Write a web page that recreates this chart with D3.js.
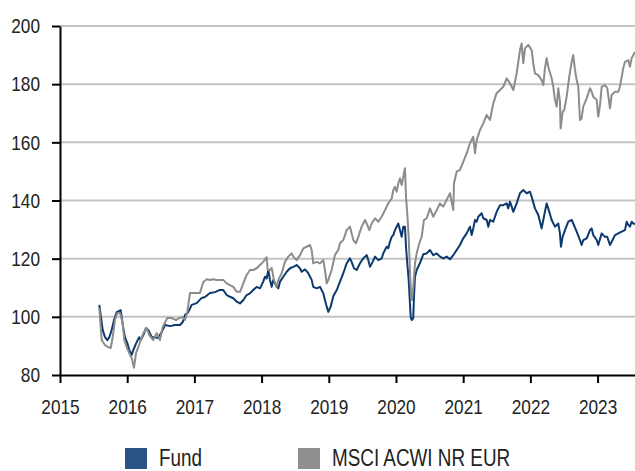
<!DOCTYPE html>
<html>
<head>
<meta charset="utf-8">
<script src="https://cdn.jsdelivr.net/npm/d3@7"></script>
<style>
  body { margin: 0; background: #fff; }
  svg text { font-family: "Liberation Sans Narrow", "Arial Narrow", "Liberation Sans", Arial, sans-serif; fill: #222; }
</style>
</head>
<body>
<script>
let w = 635;
let h = 471;

// decimal years + index values
let fundT = [2015.585,2015.61,2015.635,2015.67,2015.704,2015.734,2015.769,2015.804,2015.844,2015.903,2015.918,2015.942,2015.967,2016.001,2016.031,2016.067,2016.091,2016.141,2016.18,2016.201,2016.24,2016.28,2016.314,2016.365,2016.414,2016.463,2016.513,2016.563,2016.637,2016.711,2016.786,2016.826,2016.86,2016.909,2016.96,2017.034,2017.109,2017.158,2017.232,2017.307,2017.371,2017.43,2017.481,2017.53,2017.579,2017.63,2017.679,2017.728,2017.778,2017.827,2017.876,2017.927,2017.976,2018.025,2018.051,2018.076,2018.1,2018.125,2018.15,2018.174,2018.225,2018.249,2018.274,2018.323,2018.374,2018.423,2018.472,2018.522,2018.571,2018.596,2018.646,2018.695,2018.745,2018.769,2018.82,2018.869,2018.918,2018.943,2018.969,2018.993,2019.028,2019.067,2019.118,2019.167,2019.216,2019.266,2019.315,2019.34,2019.375,2019.415,2019.464,2019.513,2019.564,2019.588,2019.613,2019.653,2019.688,2019.737,2019.787,2019.811,2019.836,2019.862,2019.885,2019.911,2019.936,2019.96,2019.985,2020.01,2020.034,2020.06,2020.085,2020.109,2020.134,2020.149,2020.168,2020.189,2020.208,2020.219,2020.234,2020.257,2020.268,2020.283,2020.308,2020.357,2020.406,2020.457,2020.506,2020.555,2020.606,2020.655,2020.704,2020.754,2020.804,2020.853,2020.903,2020.952,2021.001,2021.052,2021.101,2021.126,2021.15,2021.176,2021.201,2021.225,2021.25,2021.275,2021.299,2021.35,2021.374,2021.399,2021.448,2021.498,2021.548,2021.597,2021.647,2021.671,2021.696,2021.722,2021.746,2021.796,2021.845,2021.894,2021.945,2021.994,2022.019,2022.068,2022.118,2022.168,2022.192,2022.242,2022.266,2022.317,2022.366,2022.415,2022.44,2022.455,2022.48,2022.515,2022.564,2022.615,2022.638,2022.689,2022.738,2022.763,2022.787,2022.838,2022.887,2022.912,2022.936,2022.987,2023.01,2023.061,2023.11,2023.144,2023.185,2023.21,2023.259,2023.308,2023.359,2023.408,2023.433,2023.457,2023.482,2023.507,2023.531,2023.557];
let fundV = [104.1,99.9,95.5,93.0,92.0,93.0,95.5,98.9,101.6,102.3,99.9,96.1,93.0,91.0,88.6,86.9,88.6,91.3,93.0,92.0,93.7,96.1,95.5,93.0,93.0,92.7,94.8,97.2,96.8,97.2,97.2,98.2,100.6,101.6,104.1,104.7,106.5,106.8,108.2,108.5,109.2,109.2,107.5,106.9,106.4,105.2,104.6,105.8,107.5,108.1,109.2,110.3,109.8,112.1,113.8,113.2,116.1,112.7,110.3,112.7,110.3,109.8,112.1,113.8,115.5,116.7,117.2,117.8,116.7,115.5,116.3,115.0,112.7,110.3,109.8,110.3,108.1,105.8,103.5,101.7,103.5,107.1,109.2,112.1,115.0,118.4,120.1,118.9,116.7,116.1,118.4,120.1,121.2,119.5,117.2,118.9,120.7,119.5,120.1,121.8,123.0,124.1,123.6,125.8,127.5,128.1,129.8,131.0,132.1,129.8,127.5,131.0,131.0,124.1,118.4,112.7,104.6,100.0,98.9,99.5,106.9,113.8,116.1,118.5,121.5,121.8,123.0,121.2,121.8,120.7,120.1,120.7,119.8,121.2,123.0,124.7,127.0,128.7,131.0,128.1,130.4,133.3,132.7,134.4,135.0,135.6,133.9,133.3,131.0,133.3,132.7,136.1,138.4,138.4,139.0,137.3,139.6,137.9,136.1,139.0,142.5,143.6,142.5,143.0,141.3,137.3,135.0,130.4,133.3,139.0,137.3,133.3,131.0,132.1,128.7,124.1,127.5,129.8,132.7,133.3,132.1,129.3,126.4,124.7,126.4,127.0,129.8,130.4,128.1,126.4,124.7,128.7,127.5,127.5,124.7,125.8,128.1,128.7,129.3,129.8,132.7,131.6,131.0,132.7,132.1,131.9];

let msciT = [2015.585,2015.621,2015.67,2015.719,2015.754,2015.784,2015.818,2015.853,2015.893,2015.933,2015.957,2015.993,2016.031,2016.067,2016.101,2016.131,2016.165,2016.201,2016.24,2016.29,2016.329,2016.388,2016.439,2016.488,2016.528,2016.597,2016.662,2016.726,2016.775,2016.826,2016.86,2016.894,2016.935,2017.009,2017.083,2017.132,2017.183,2017.232,2017.281,2017.332,2017.381,2017.43,2017.481,2017.53,2017.579,2017.63,2017.679,2017.728,2017.778,2017.827,2017.876,2017.927,2017.976,2018.025,2018.076,2018.09,2018.125,2018.15,2018.184,2018.225,2018.249,2018.299,2018.348,2018.397,2018.448,2018.472,2018.522,2018.571,2018.621,2018.671,2018.72,2018.745,2018.769,2018.82,2018.869,2018.918,2018.943,2018.969,2018.993,2019.043,2019.092,2019.141,2019.167,2019.216,2019.266,2019.315,2019.34,2019.365,2019.405,2019.439,2019.489,2019.539,2019.564,2019.603,2019.638,2019.688,2019.737,2019.787,2019.836,2019.885,2019.936,2019.96,2019.985,2020.01,2020.034,2020.06,2020.085,2020.109,2020.134,2020.149,2020.168,2020.189,2020.208,2020.223,2020.238,2020.257,2020.283,2020.308,2020.347,2020.382,2020.417,2020.457,2020.506,2020.555,2020.606,2020.655,2020.704,2020.754,2020.804,2020.853,2020.863,2020.903,2020.952,2021.001,2021.052,2021.101,2021.15,2021.176,2021.201,2021.25,2021.299,2021.35,2021.399,2021.448,2021.498,2021.548,2021.597,2021.647,2021.696,2021.746,2021.796,2021.845,2021.87,2021.894,2021.92,2021.969,2022.019,2022.043,2022.068,2022.118,2022.168,2022.192,2022.217,2022.242,2022.266,2022.317,2022.341,2022.366,2022.391,2022.415,2022.44,2022.45,2022.48,2022.504,2022.54,2022.579,2022.615,2022.638,2022.664,2022.689,2022.713,2022.738,2022.763,2022.787,2022.838,2022.887,2022.912,2022.936,2022.987,2023.01,2023.036,2023.061,2023.11,2023.144,2023.185,2023.21,2023.259,2023.308,2023.333,2023.382,2023.408,2023.457,2023.482,2023.507,2023.531,2023.557];
let msciV = [103.0,92.0,90.3,89.6,89.3,93.0,98.9,101.3,101.3,97.9,92.0,89.6,87.5,85.8,82.5,87.5,89.6,92.0,94.4,96.1,93.7,92.0,94.4,92.0,96.5,99.6,99.6,98.9,99.6,99.9,98.9,101.6,108.2,108.2,108.2,112.0,112.9,112.7,112.9,112.7,112.7,112.7,111.5,110.9,110.3,108.6,108.6,111.5,114.4,116.1,116.1,116.7,117.8,118.9,120.5,116.1,116.1,116.8,112.7,110.3,112.7,115.0,118.9,120.7,121.8,120.7,119.5,121.2,123.5,124.1,124.7,123.0,118.4,118.9,118.4,119.5,116.1,111.5,112.7,116.1,121.3,123.0,125.3,126.4,129.8,131.0,128.7,126.4,125.3,127.5,131.0,133.3,132.1,129.8,132.1,133.9,132.7,134.4,136.7,139.0,140.7,143.6,144.7,143.0,145.9,147.6,145.3,148.2,151.1,141.3,135.6,127.5,116.1,108.1,105.8,110.3,118.4,121.8,125.3,127.5,133.3,133.9,137.3,134.4,136.7,139.0,137.9,140.2,142.5,136.7,145.9,149.9,150.5,153.3,156.2,159.7,161.9,156.2,160.8,164.2,166.5,169.4,167.7,173.4,176.9,178.0,179.1,182.0,180.3,178.0,183.7,191.7,194.0,187.2,192.3,193.5,191.7,187.2,183.7,183.1,181.4,179.7,185.5,188.9,186.0,182.0,179.1,174.6,172.3,178.6,174.0,164.8,170.5,171.1,175.7,182.6,187.7,190.0,184.9,181.4,179.1,167.7,168.3,172.3,175.1,178.6,177.4,175.7,174.6,168.8,172.8,179.1,179.7,178.6,171.7,176.3,177.4,177.4,179.1,185.5,187.7,188.3,186.0,188.9,190.0,191.1];

let yearTicks = [2015, 2016, 2017, 2018, 2019, 2020, 2021, 2022, 2023];
let valueTicks = [80, 100, 120, 140, 160, 180, 200];
let seriesNames = ["Fund", "MSCI ACWI NR EUR"];
let lineColors = ["#0c3a6e", "#8c8c8c"];
let legendColors = ["#2a5284", "#8f8f8f"];

let fund = fundT.map((t, i) => [t, fundV[i]]);
let msci = msciT.map((t, i) => [t, msciV[i]]);

let xScale = d3.scaleLinear()
  .domain([2015, 2023.557])
  .range([60, 635]);

let yScale = d3.scaleLinear()
  .domain([80, 200])
  .range([375, 26]);

let svg = d3.select("body")
  .append("svg")
  .attr("width", w)
  .attr("height", h);

// grid
svg.append("g")
  .selectAll("line")
  .data(valueTicks.filter(d => d > 80))
  .enter()
  .append("line")
  .attr("x1", 60)
  .attr("x2", w)
  .attr("y1", d => yScale(d))
  .attr("y2", d => yScale(d))
  .attr("stroke", "#c4c4c4")
  .attr("stroke-width", 2);

let line = d3.line()
  .x(d => xScale(d[0]))
  .y(d => yScale(d[1]));

svg.append("path")
  .datum(fund)
  .attr("d", line)
  .attr("fill", "none")
  .attr("stroke", lineColors[0])
  .attr("stroke-width", 2)
  .attr("stroke-linejoin", "round");

svg.append("path")
  .datum(msci)
  .attr("d", line)
  .attr("fill", "none")
  .attr("stroke", lineColors[1])
  .attr("stroke-width", 2)
  .attr("stroke-linejoin", "round");

let xAxis = d3.axisBottom(xScale)
  .tickValues(yearTicks)
  .tickFormat(d3.format("d"))
  .tickSizeInner(8)
  .tickSizeOuter(0)
  .tickPadding(16);

let yAxis = d3.axisLeft(yScale)
  .tickValues(valueTicks)
  .tickSizeInner(8)
  .tickSizeOuter(0)
  .tickPadding(12);

let gx = svg.append("g")
  .attr("transform", "translate(0,375)")
  .call(xAxis);

let gy = svg.append("g")
  .attr("transform", "translate(60,0)")
  .call(yAxis);

[gx, gy].forEach(g => {
  g.select(".domain").attr("stroke", "#000").attr("stroke-width", 2);
  g.selectAll(".tick line").attr("stroke", "#000").attr("stroke-width", 2);
  g.selectAll("text")
    .attr("font-size", 21)
    .attr("font-family", null)
    .attr("fill", "#222");
});

// legend
let legend = svg.append("g")
  .selectAll("g")
  .data(seriesNames)
  .enter()
  .append("g")
  .attr("transform", (d, i) => "translate(" + [125, 298][i] + ",448)");

legend.append("rect")
  .attr("width", 22)
  .attr("height", 21)
  .attr("fill", (d, i) => legendColors[i]);

legend.append("text")
  .attr("x", 34)
  .attr("y", 18)
  .attr("font-size", 23)
  .text(d => d);

// no narrow font installed: squeeze the regular one to narrow proportions
svg.selectAll("text").each(function() {
  let len = this.getComputedTextLength();
  d3.select(this)
    .attr("textLength", len * 0.82)
    .attr("lengthAdjust", "spacingAndGlyphs");
});
</script>
</body>
</html>
